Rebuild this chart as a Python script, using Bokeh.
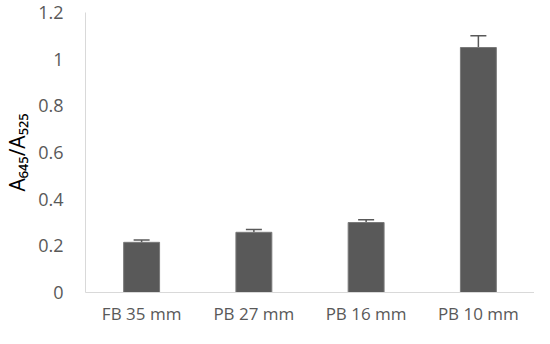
from bokeh.plotting import figure
from bokeh.models import ColumnDataSource, Whisker, FixedTicker, CustomJSTickFormatter
from bokeh.embed import file_html
from bokeh.resources import INLINE

categories = ["FB 35 mm", "PB 27 mm", "PB 16 mm", "PB 10 mm"]
values = [0.215, 0.258, 0.300, 1.050]
errors = [0.010, 0.012, 0.012, 0.050]
y_ticks = [0, 0.2, 0.4, 0.6, 0.8, 1.0, 1.2]

upper = [v + e for v, e in zip(values, errors)]
src = ColumnDataSource(dict(cat=categories, val=values, upper=upper))

p = figure(x_range=categories, y_range=(0, 1.2), width=534, height=328,
           output_backend="svg", toolbar_location=None,
           min_border_left=81, min_border_right=0, min_border_top=12, min_border_bottom=36)
p.outline_line_color = None
p.xgrid.grid_line_color = None
p.ygrid.grid_line_color = None
p.x_range.range_padding = 0

p.vbar(x="cat", top="val", width=0.32, source=src, fill_color="#595959",
       line_color="#7a7a7a", line_width=1)

w = Whisker(base="cat", lower="val", upper="upper", source=src, dimension="height",
            line_color="#595959", line_width=1.5)
w.upper_head.size = 16
w.upper_head.line_color = "#595959"
w.upper_head.line_width = 1.5
w.lower_head = None
p.add_layout(w)

font = "Open Sans"
for ax in (p.xaxis, p.yaxis):
    ax.axis_line_color = "#d9d9d9"
    ax.major_tick_line_color = None
    ax.minor_tick_line_color = None
    ax.major_tick_out = 0
    ax.minor_tick_out = 0
    ax.major_tick_in = 0
    ax.minor_tick_in = 0
    ax.major_label_text_font = font
    ax.major_label_text_color = "#595959"

p.yaxis.ticker = FixedTicker(ticks=y_ticks)
p.yaxis.formatter = CustomJSTickFormatter(code="return tick.toFixed(1).replace(/\\.0$/, '');")
p.yaxis.major_label_text_font_size = "18px"
p.yaxis.major_label_standoff = 22
p.yaxis.axis_label = "A₆₄₅/A₅₂₅"
p.yaxis.axis_label_text_font = font
p.yaxis.axis_label_text_font_style = "normal"
p.yaxis.axis_label_text_font_size = "21px"
p.yaxis.axis_label_text_color = "#000000"
p.yaxis.axis_label_standoff = 4

p.xaxis.major_label_text_font_size = "17px"
p.xaxis.major_label_text_line_height = 0.9
p.xaxis.major_label_standoff = 9

open("out.html", "w").write(file_html(p, INLINE))
